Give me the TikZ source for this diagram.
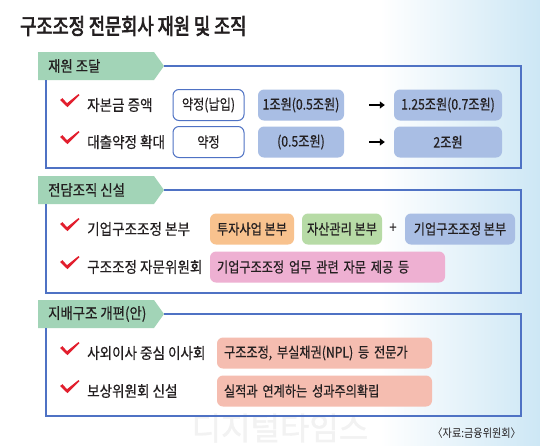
\documentclass[tikz,border=0pt]{standalone}
\usepackage{fontspec}
\setmainfont{Noto Sans CJK KR}
\newfontfamily\krl[FakeStretch=0.88,FakeBold=0.5]{Noto Sans CJK KR}
\newfontfamily\krb[FakeStretch=0.84,FakeBold=0.5]{Noto Sans CJK KR}
\newfontfamily\krt[FakeStretch=0.8,FakeBold=3]{Noto Sans CJK KR}
\newfontfamily\krs[FakeStretch=0.88]{Noto Sans CJK KR}
\newfontfamily\krw[FakeBold=1]{Noto Sans CJK KR}
\usetikzlibrary{arrows.meta}
\definecolor{frameblue}{HTML}{4F72C4}
\definecolor{tagmint}{HTML}{A2D4B7}
\definecolor{boxblue}{HTML}{A9BEE4}
\definecolor{boxorange}{HTML}{F8C28E}
\definecolor{boxgreen}{HTML}{B7DBA6}
\definecolor{boxpink}{HTML}{EEB0D2}
\definecolor{boxsalmon}{HTML}{F5BDB0}
\definecolor{chkred}{HTML}{E21F2E}
\definecolor{bgblue}{HTML}{CDE7F5}
\definecolor{txt}{HTML}{231F20}
\tikzset{
  frameline/.style={draw=frameblue, line width=1.3pt},
  tagshape/.style={fill=tagmint},
  tagtext/.style={anchor=west, font=\krl\fontsize{15.2}{15.2}\selectfont, text=txt, inner sep=0},
  rowlabel/.style={anchor=west, font=\krl\fontsize{15.4}{15.4}\selectfont, text=txt, inner sep=0},
  box/.style={rounded corners=6pt, minimum height=31pt, inner sep=0, font=\krb\fontsize{14.5}{14.5}\selectfont, text=txt},
  whitebox/.style={box, draw=frameblue, line width=1pt, fill=white},
  arr/.style={-{Triangle[length=5pt,width=7pt]}, line width=2pt, black},
  chk/.pic={\fill[chkred] (-9,-4) -- (-6.5,-5.8) -- (-2,-0.8) -- (9.5,-10) -- (10.5,-8.8) -- (-1.5,3.2) -- cycle;}
}
\begin{document}
\begin{tikzpicture}[x=1pt,y=-1pt]
\useasboundingbox (0,0) rectangle (540,445);
\fill[white] (0,0) rectangle (540,445);
\shade[left color=white, right color=bgblue] (380,0) rectangle (540,445);

% watermark
\node[font=\krw\fontsize{32}{32}\selectfont, text=black!5] (wm) at (280,428) {디지털타임스};

% title
\node[anchor=west, font=\krt\fontsize{22}{22}\selectfont, text=txt, inner sep=0] (title) at (20,26) {구조조정 전문회사 재원 및 조직};

% ---------- section 1
\fill[tagshape] (38,52) -- (154,52) -- (164,66) -- (154,80) -- (38,80) -- cycle;
\node[tagtext] (t1) at (48,66) {재원 조달};
\draw[frameline] (164,66) -- (521,66) -- (521,168) -- (46,168) -- (46,80);

\pic at (69,104) {chk};
\node[rowlabel] (l1) at (87,105) {자본금 증액};
\node[whitebox, minimum width=71pt] (a1) at (208.5,105) {약정(납입)};
\node[box, fill=boxblue, minimum width=86pt] (a2) at (301,105) {1조원(0.5조원)};
\node[box, fill=boxblue, minimum width=108pt] (a3) at (448,105) {1.25조원(0.7조원)};
\draw[arr, shorten <=25pt, shorten >=9pt] (a2) -- (a3);

\pic at (69,141) {chk};
\node[rowlabel] (l2) at (87,142) {대출약정 확대};
\node[whitebox, minimum width=71pt] (b1) at (208.5,142) {약정};
\node[box, fill=boxblue, minimum width=86pt] (b2) at (301,142) {(0.5조원)};
\node[box, fill=boxblue, minimum width=108pt] (b3) at (448,142) {2조원};
\draw[arr, shorten <=25pt, shorten >=9pt] (b2) -- (b3);

% ---------- section 2
\fill[tagshape] (38,176) -- (154,176) -- (164,190) -- (154,204) -- (38,204) -- cycle;
\node[tagtext] (t2) at (48,190) {전담조직 신설};
\draw[frameline] (164,190) -- (521,190) -- (521,293) -- (46,293) -- (46,204);

\pic at (69,228) {chk};
\node[rowlabel] (l3) at (87,229) {기업구조조정 본부};
\node[box, fill=boxorange, minimum width=84pt] (c1) at (252,229) {투자사업 본부};
\node[box, fill=boxgreen, minimum width=80pt] (c2) at (342,229) {자산관리 본부};
\node[font=\krb\fontsize{15}{15}\selectfont, text=txt, inner sep=0] (plus) at (393,228) {+};
\node[box, fill=boxblue, minimum width=110pt] (c3) at (460,229) {기업구조조정 본부};

\pic at (69,266) {chk};
\node[rowlabel] (l4) at (87,267) {구조조정 자문위원회};
\node[box, fill=boxpink, minimum width=235pt, text width=221pt, align=left] (d1) at (327.5,267) {기업구조조정 업무 관련 자문 제공 등};

% ---------- section 3
\fill[tagshape] (38,300) -- (154,300) -- (164,314) -- (154,328) -- (38,328) -- cycle;
\node[tagtext] (t3) at (48,314) {지배구조 개편(안)};
\draw[frameline] (164,314) -- (521,314) -- (521,416) -- (46,416) -- (46,328);

\pic at (69,352) {chk};
\node[rowlabel] (l5) at (87,353) {사외이사 중심 이사회};
\node[box, fill=boxsalmon, minimum width=215pt, text width=201pt, align=left] (e1) at (324.5,353) {구조조정, 부실채권(NPL) 등 전문가};

\pic at (69,390) {chk};
\node[rowlabel] (l6) at (87,391) {보상위원회 신설};
\node[box, fill=boxsalmon, minimum width=215pt, text width=201pt, align=left] (f1) at (324.5,391) {실적과 연계하는 성과주의확립};

% source
\node[anchor=east, font=\krs\fontsize{11.5}{11.5}\selectfont, text=txt, inner sep=0] (src) at (521,433) {〈자료:금융위원회〉};
\end{tikzpicture}
\end{document}
